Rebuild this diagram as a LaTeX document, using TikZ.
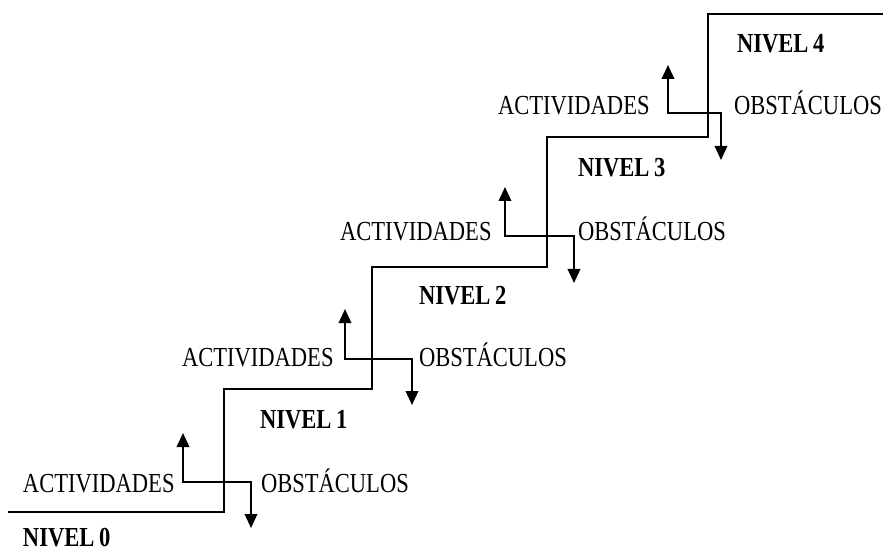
\documentclass[tikz,border=0pt]{standalone}
\usepackage{fontspec}
\setmainfont[FakeStretch=0.82]{Liberation Serif}
\usetikzlibrary{arrows.meta}
\begin{document}
\begin{tikzpicture}[x=1pt,y=-1pt,
  stair/.style={line width=1.9pt},
  flow/.style={line width=1.9pt,{Triangle[length=14pt,width=12.5pt]}-{Triangle[length=14pt,width=12.5pt]}},
  lbl/.style={anchor=base west,inner sep=0pt,outer sep=0pt,font=\fontsize{27.5}{30}\selectfont},
  lvl/.style={anchor=base west,inner sep=0pt,outer sep=0pt,font=\fontsize{27.5}{30}\selectfont\bfseries}]
\useasboundingbox (0,0) rectangle (883,553);
% staircase
\coordinate (s0) at (8,512);
\coordinate (s1) at (224,512);
\coordinate (s2) at (224,389);
\coordinate (s3) at (372,389);
\coordinate (s4) at (372,267);
\coordinate (s5) at (547,267);
\coordinate (s6) at (547,137);
\coordinate (s7) at (708,137);
\coordinate (s8) at (708,14);
\coordinate (s9) at (883,14);
\draw[stair] (s0) -- (s1) -- (s2) -- (s3) -- (s4) -- (s5) -- (s6) -- (s7) -- (s8) -- (s9);
% level labels
\node[lvl] (n0) at (23,546) {NIVEL\kern-1pt\ 0};
\node[lvl] (n1) at (260,428) {NIVEL\kern-1pt\ 1};
\node[lvl] (n2) at (419,304) {NIVEL\kern-1pt\ 2};
\node[lvl] (n3) at (578,177) {NIVEL\kern-1pt\ 3};
\node[lvl] (n4) at (737,53) {NIVEL\kern-1pt\ 4};
% activities / obstacles labels
\node[lbl] (a0) at (23,492) {ACTIVIDADES};
\node[lbl] (o0) at (261,492) {OBSTÁCULOS};
\node[lbl] (a1) at (182,366) {ACTIVIDADES};
\node[lbl] (o1) at (419,366) {OBSTÁCULOS};
\node[lbl] (a2) at (340,241) {ACTIVIDADES};
\node[lbl] (o2) at (578,241) {OBSTÁCULOS};
\node[lbl] (a3) at (498,115) {ACTIVIDADES};
\node[lbl] (o3) at (734,115) {OBSTÁCULOS};
% arrows
\coordinate (u0) at (183,433); \coordinate (b0) at (183,482);
\coordinate (c0) at (251,482); \coordinate (d0) at (251,528);
\coordinate (u1) at (345,309); \coordinate (b1) at (345,359);
\coordinate (c1) at (412,359); \coordinate (d1) at (412,405);
\coordinate (u2) at (505,187); \coordinate (b2) at (505,236);
\coordinate (c2) at (574,236); \coordinate (d2) at (574,283);
\coordinate (u3) at (668,65); \coordinate (b3) at (668,113);
\coordinate (c3) at (721,113); \coordinate (d3) at (721,160);
\draw[flow] (u0) -- (b0) -- (c0) -- (d0);
\draw[flow] (u1) -- (b1) -- (c1) -- (d1);
\draw[flow] (u2) -- (b2) -- (c2) -- (d2);
\draw[flow] (u3) -- (b3) -- (c3) -- (d3);
\end{tikzpicture}
\end{document}
